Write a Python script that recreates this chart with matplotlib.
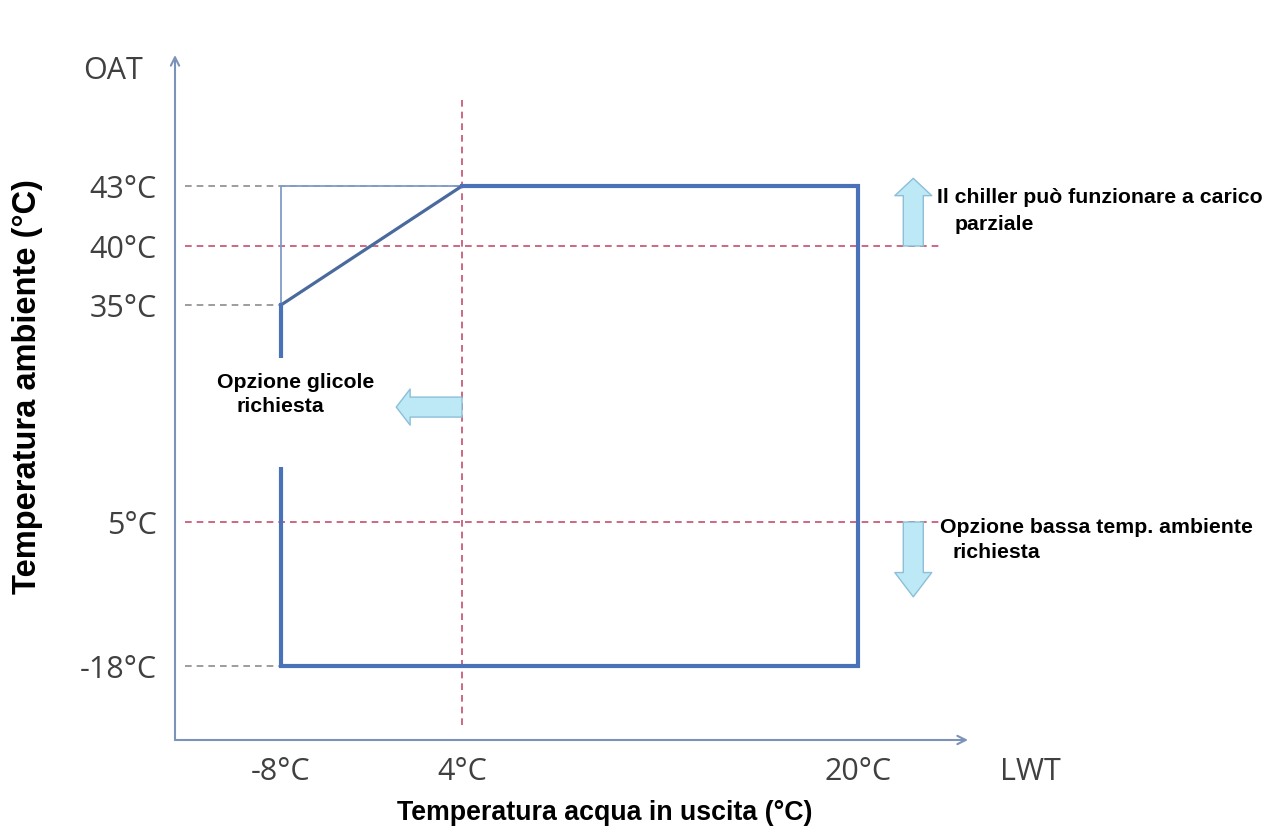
import numpy as np
import matplotlib
matplotlib.use('Agg')
import matplotlib.pyplot as plt
from matplotlib.patches import Rectangle

# ---- data ----
lwt_ticks = [-8, 4, 20]
lwt_labels = ['-8°C', '4°C', '20°C']
oat_ticks = [-18, 5, 35, 40, 43]
oat_labels = ['-18°C', '5°C', '35°C', '40°C', '43°C']

# operating envelope (LWT, OAT)
env_lwt = [-8, -8, 20, 20, 4]
env_oat = [35, -18, -18, 43, 43]
glycol_lwt = [4, -8]          # sloped limit, glycol zone
glycol_oat = [43, 35]
frame_lwt = [-8, -8, 4]       # thin outline above the slope
frame_oat = [35, 43, 43]

lwt_limit = 4                 # red dashed limits
oat_limits = [40, 5]

# schematic (non linear) axes: temperature -> figure pixel
X_KNOTS, X_PIX = [-8, 4, 20], [281, 462, 858]
Y_KNOTS, Y_PIX = [-18, 5, 35, 40, 43], [172, 316, 533, 592, 652]


def piecewise(v, xp, fp):
    v = np.asarray(v, dtype=float)
    out = np.interp(v, xp, fp)
    lo = (fp[1] - fp[0]) / (xp[1] - xp[0])
    hi = (fp[-1] - fp[-2]) / (xp[-1] - xp[-2])
    out = np.where(v < xp[0], fp[0] + (v - xp[0]) * lo, out)
    out = np.where(v > xp[-1], fp[-1] + (v - xp[-1]) * hi, out)
    return out


AXIS_C = '#7b93b8'
BLUE = '#4a72b8'
RED = '#c44f6c'
GREY = '#8c8c8c'
TICK_C = '#404040'
BOLD = dict(family='Liberation Sans', weight='bold', color='black')

fig = plt.figure(figsize=(12.71, 8.38), dpi=100)
ax = fig.add_axes([175 / 1271, 98 / 838, 793 / 1271, 685 / 838])
ax.set_xscale('function', functions=(lambda v: piecewise(v, X_KNOTS, X_PIX),
                                     lambda p: piecewise(p, X_PIX, X_KNOTS)))
ax.set_yscale('function', functions=(lambda v: piecewise(v, Y_KNOTS, Y_PIX),
                                     lambda p: piecewise(p, Y_PIX, Y_KNOTS)))
ax.set_xlim(float(piecewise(175, X_PIX, X_KNOTS)), float(piecewise(968, X_PIX, X_KNOTS)))
ax.set_ylim(float(piecewise(98, Y_PIX, Y_KNOTS)), float(piecewise(783, Y_PIX, Y_KNOTS)))

for s in ax.spines.values():
    s.set_visible(False)
ax.set_facecolor('none')
ax.set_xticks(lwt_ticks, lwt_labels)
ax.set_yticks(oat_ticks, oat_labels)
ax.tick_params(length=0, labelsize=22, labelcolor=TICK_C)
ax.tick_params(axis='x', pad=12)
ax.tick_params(axis='y', pad=13)
for lab in ax.get_xticklabels() + ax.get_yticklabels():
    lab.set_family('Open Sans')

# axes with arrow heads
arr = dict(arrowstyle='->,head_length=0.6,head_width=0.3', color=AXIS_C, lw=1.5,
           shrinkA=0, shrinkB=0)
ax.annotate('', xy=(0, 1), xytext=(0, 0), xycoords='axes fraction', arrowprops=arr)
ax.annotate('', xy=(1, 0), xytext=(0, 0), xycoords='axes fraction', arrowprops=arr)
ax.text(-0.040, 0.9766, 'OAT', transform=ax.transAxes, fontsize=22, color=TICK_C,
        family='Open Sans', va='center', ha='right')
ax.text(1.04, -0.047, 'LWT', transform=ax.transAxes, fontsize=22, color=TICK_C,
        family='Open Sans', va='center', ha='left')

# grey guide lines to the ticks
x0 = ax.transData.inverted().transform(ax.transAxes.transform((0.012, 0)))[0]
dash = dict(color=GREY, lw=1.2, dashes=(4, 3))
ax.plot([x0, 4], [43, 43], **dash)
ax.plot([x0, -8], [35, 35], **dash)
ax.plot([x0, -8], [-18, -18], **dash)
for xv in [-8, 20]:
    ax.plot([xv, xv], [-18, 0], transform=ax.get_xaxis_transform(), **dash)

# red dashed limits
red = dict(color=RED, lw=1.2, dashes=(4, 3))
ax.plot([lwt_limit, lwt_limit], [0.022, 0.934], transform=ax.get_xaxis_transform(), **red)
for yv in oat_limits:
    ax.plot([0.013, 0.965], [yv, yv], transform=ax.get_yaxis_transform(), **red)

# envelope
ax.plot(frame_lwt, frame_oat, color='#7f9cc8', lw=1.3)
ax.plot(glycol_lwt, glycol_oat, color='#4a6a9e', lw=2.3, solid_capstyle='round')
ax.plot(env_lwt, env_oat, color=BLUE, lw=3, solid_joinstyle='miter')

# block arrows
blk = dict(fc='#bde8f5', ec='#8cbfd8', lw=1, shrinkA=0, shrinkB=0, mutation_scale=10)
ax.annotate('', xy=(0.931, 0.820), xycoords='axes fraction',
            xytext=(0.931, 40), textcoords=('axes fraction', 'data'),
            arrowprops=dict(arrowstyle='simple,head_length=1.25,head_width=2.66,tail_width=1.44', **blk))
ax.annotate('', xy=(0.931, 0.209), xycoords='axes fraction',
            xytext=(0.931, 5), textcoords=('axes fraction', 'data'),
            arrowprops=dict(arrowstyle='simple,head_length=1.75,head_width=2.66,tail_width=1.44', **blk))
ax.annotate('', xy=(0.279, 0.486), xycoords='axes fraction',
            xytext=(lwt_limit, 0.486), textcoords=('data', 'axes fraction'),
            arrowprops=dict(arrowstyle='simple,head_length=1.0,head_width=2.6,tail_width=1.44', **blk))

# white label box
ax.add_patch(Rectangle((0.0315, 0.3985), 0.246, 0.159, transform=ax.transAxes,
                       fc='white', ec='none', zorder=3))

NOTE = 15.3
fig.text(217 / 1271, 1 - 388 / 838, 'Opzione glicole', fontsize=NOTE,
         va='baseline', ha='left', zorder=4, **BOLD)
fig.text(237 / 1271, 1 - 412 / 838, 'richiesta', fontsize=NOTE,
         va='baseline', ha='left', zorder=4, **BOLD)
fig.text(937 / 1271, 1 - 203 / 838, 'Il chiller può funzionare a carico', fontsize=NOTE,
         va='baseline', ha='left', **BOLD)
fig.text(955 / 1271, 1 - 230 / 838, 'parziale', fontsize=NOTE, va='baseline', ha='left', **BOLD)
fig.text(940 / 1271, 1 - 533 / 838, 'Opzione bassa temp. ambiente', fontsize=NOTE,
         va='baseline', ha='left', **BOLD)
fig.text(953 / 1271, 1 - 558 / 838, 'richiesta', fontsize=NOTE, va='baseline', ha='left', **BOLD)

fig.text(605 / 1271, 1 - 820 / 838, 'Temperatura acqua in uscita (°C)', fontsize=19.3,
         va='baseline', ha='center', **BOLD)
fig.text(28 / 1271, 1 - 387 / 838, 'Temperatura ambiente (°C)', fontsize=23.5, rotation=90,
         va='center', ha='center', **BOLD)

fig.savefig('out.png', dpi=100)
